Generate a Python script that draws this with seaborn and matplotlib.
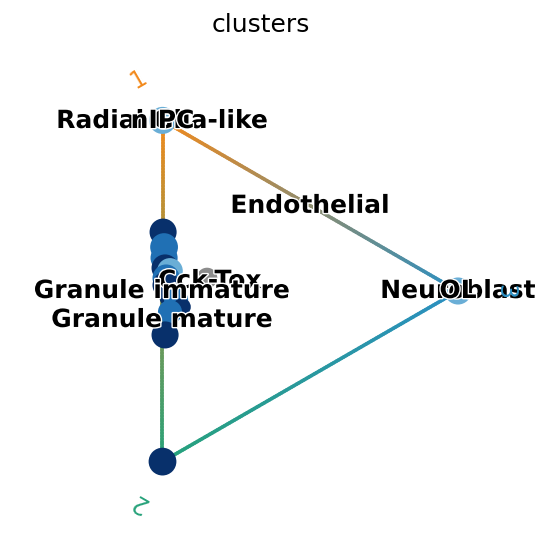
import numpy as np
import pandas as pd
import matplotlib
matplotlib.use("Agg")
import matplotlib.pyplot as plt
import matplotlib.patheffects as pe
from matplotlib.collections import LineCollection
from matplotlib.colors import to_rgb
import seaborn as sns

sns.set_theme(style="white")
plt.rcParams['font.family'] = ['DejaVu Sans']

# terminal states (vertices of the circular projection)
states = ["1", "2", "3"]
state_angles = [120, 240, 0]  # degrees
state_colors = ["#f28a1c", "#27a27a", "#2b8fc2"]

# cells (projected coordinates) and their colour level (Blues; -1 = grey)
cell_x = [-0.50, -0.50, 1.00, -0.497, -0.492, -0.492, -0.487, -0.462, -0.482,
          -0.482, -0.452, -0.431, -0.401, -0.462, -0.487, -0.274]
cell_y = [0.866, -0.866, 0.00, 0.299, 0.223, 0.168, 0.117, 0.102, 0.066,
          0.030, -0.025, -0.046, -0.081, -0.107, -0.223, 0.066]
cell_level = [0.50, 1.00, 0.50, 1.00, 0.75, 0.75, 1.00, 0.50, 0.75,
              1.00, 1.00, 0.75, 1.00, 0.75, 1.00, -1]
cell_size = [380, 400, 380, 380, 400, 380, 380, 340, 380,
             380, 340, 300, 160, 300, 380, 220]

# cluster labels and their positions
label_names = ["Radial Glia-like", "nIPC", "Neuroblast", "OL", "Endothelial",
               "Cck-Tox", "Granule immature", "Granule mature"]
label_x = [-0.50, -0.50, 1.00, 1.00, 0.25, -0.26, -0.50, -0.50]
label_y = [0.863, 0.863, 0.00, 0.00, 0.432, 0.051, 0.000, -0.147]

title = "clusters"

W, H = 551, 554
fig = plt.figure(figsize=(W / 100, H / 100), dpi=100)
ax = fig.add_axes([0, 0, 1, 514 / 554])
cx, cy, R = 261, 291, 197
XL = ((0 - cx) / R, (W - cx) / R)
YL = ((cy - H) / R, (cy - 40) / R)
ax.set_xlim(*XL)
ax.set_ylim(*YL)
ax.axis("off")

# gradient edges between vertices
vx = np.cos(np.deg2rad(state_angles))
vy = np.sin(np.deg2rad(state_angles))
for i in range(3):
    for j in range(i + 1, 3):
        t = np.linspace(0, 1, 120)
        xs = vx[i] + (vx[j] - vx[i]) * t
        ys = vy[i] + (vy[j] - vy[i]) * t
        pts = np.array([xs, ys]).T.reshape(-1, 1, 2)
        segs = np.concatenate([pts[:-1], pts[1:]], axis=1)
        c0, c1 = np.array(to_rgb(state_colors[i])), np.array(to_rgb(state_colors[j]))
        tm = (t[:-1] + t[1:]) / 2
        cols = c0[None, :] * (1 - tm[:, None]) + c1[None, :] * tm[:, None]
        lc = LineCollection(segs, colors=cols, linewidths=2.6, zorder=1,
                            capstyle="round")
        ax.add_collection(lc)

# state labels
for k, s in enumerate(states):
    a = state_angles[k]
    ax.text(1.24 * np.cos(np.deg2rad(a)), 1.24 * np.sin(np.deg2rad(a)), s,
            color=state_colors[k], fontsize=17, rotation=a - 90,
            ha="center", va="center", rotation_mode="anchor", zorder=6)

# cells
cmap = plt.get_cmap("Blues")
df = pd.DataFrame({"x": cell_x, "y": cell_y, "level": cell_level,
                   "size": cell_size})
df["id"] = [str(i) for i in range(len(df))]
pal = {r.id: ("#8c8c8c" if r.level < 0 else cmap(r.level))
       for r in df.itertuples()}
sns.scatterplot(data=df, x="x", y="y", hue="id", palette=pal, size="size",
                sizes=(min(cell_size), max(cell_size)), legend=False,
                linewidth=0, ax=ax, zorder=3)
ax.set_xlim(*XL)
ax.set_ylim(*YL)
ax.set_xlabel("")
ax.set_ylabel("")

for n, x, y in zip(label_names, label_x, label_y):
    ax.text(x, y, n, fontsize=18, fontweight="bold", color="black",
            ha="center", va="center", zorder=5,
            path_effects=[pe.withStroke(linewidth=2, foreground="w")])

ax.set_title(title, fontsize=18, color="black", x=cx / W)
fig.savefig("out.png", dpi=100)
